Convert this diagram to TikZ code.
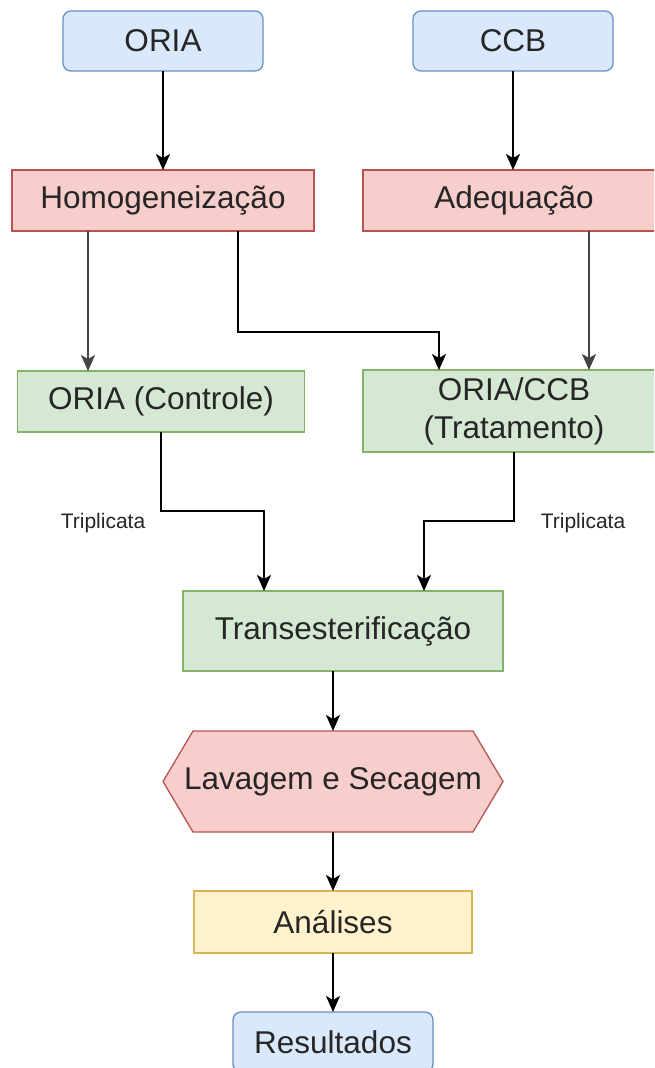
\documentclass[tikz,border=0pt]{standalone}
\usepackage{fontspec}
\setmainfont{Liberation Sans}
\usetikzlibrary{arrows.meta,backgrounds}
\definecolor{bluefill}{HTML}{DAE8FC}
\definecolor{blueline}{HTML}{6C8EBF}
\definecolor{redfill}{HTML}{F8CECC}
\definecolor{redline}{HTML}{B85450}
\definecolor{greenfill}{HTML}{D5E8D4}
\definecolor{greenline}{HTML}{82B366}
\definecolor{yellowfill}{HTML}{FFF2CC}
\definecolor{yellowline}{HTML}{D6B656}
\definecolor{txt}{HTML}{262626}
\definecolor{grayline}{HTML}{444444}
\begin{document}
\begin{tikzpicture}[x=1pt,y=-1pt,
  base/.style={inner sep=0pt, outer sep=0pt, font=\fontsize{31.5}{38}\selectfont, text=txt, line width=1.3pt, align=center},
  bluebox/.style={base, draw=blueline, fill=bluefill, rounded corners=8pt},
  redbox/.style={base, draw=redline, fill=redfill},
  greenbox/.style={base, draw=greenline, fill=greenfill},
  yellowbox/.style={base, draw=yellowline, fill=yellowfill},
  hexbox/.style={base},
  conn/.style={line width=1.9pt, draw=black, -{Stealth[length=16pt,width=14pt,inset=4pt]}},
  grayconn/.style={conn, draw=grayline},
  lbl/.style={inner sep=0pt, font=\fontsize{21}{24}\selectfont, text=txt}]
\path[use as bounding box] (0,0) rectangle (654,1068);
\clip (0,0) rectangle (654,1068);

\node[bluebox, minimum width=200pt, minimum height=60pt] (oria) at (163,41) {ORIA};
\node[bluebox, minimum width=200pt, minimum height=60pt] (ccb) at (513,41) {CCB};
\node[redbox, minimum width=302pt, minimum height=61pt] (homog) at (163,200.5) {Homogeneização};
\node[redbox, minimum width=302pt, minimum height=61pt] (adeq) at (514,200.5) {Adequação};
\node[greenbox, minimum width=287pt, minimum height=61pt] (controle) at (161,401.5) {ORIA (Controle)};
\node[greenbox, minimum width=302pt, minimum height=82pt] (trat) at (514,411) {ORIA/CCB\\(Tratamento)};
\node[greenbox, minimum width=320pt, minimum height=80pt] (trans) at (343,631) {Transesterificação};
\node[hexbox, minimum width=340pt, minimum height=101pt] (hex) at (333,781.5) {Lavagem e Secagem};
\begin{scope}[on background layer]
\draw[draw=redline, fill=redfill, line width=1.3pt]
  (hex.west) -- ([xshift=30pt]hex.north west) -- ([xshift=-30pt]hex.north east)
  -- (hex.east) -- ([xshift=-30pt]hex.south east) -- ([xshift=30pt]hex.south west) -- cycle;
\end{scope}
\node[yellowbox, minimum width=278pt, minimum height=62pt] (analises) at (333,922) {Análises};
\node[bluebox, minimum width=200pt, minimum height=60pt] (result) at (333,1042) {Resultados};

\node[lbl] (trip1) at (103,523) {Triplicata};
\node[lbl] (trip2) at (583,523) {Triplicata};

\draw[conn] (oria.south) -- (homog.north);
\draw[conn] (ccb.south) -- (ccb.south |- adeq.north);
\draw[grayconn] ([xshift=-75pt]homog.south) -- ([xshift=-75pt]homog.south |- controle.north);
\draw[conn] ([xshift=75pt]homog.south) -- ++(0,101) -| ([xshift=-75pt]trat.north);
\draw[grayconn] ([xshift=75pt]adeq.south) -- ([xshift=75pt]trat.north);
\draw[conn] (controle.south) -- ++(0,79) -| ([xshift=-79pt]trans.north);
\draw[conn] (trat.south) -- ++(0,69) -| ([xshift=81pt]trans.north);
\draw[conn] ([xshift=-10pt]trans.south) -- (hex.north);
\draw[conn] (hex.south) -- (analises.north);
\draw[conn] (analises.south) -- (result.north);
\end{tikzpicture}
\end{document}
